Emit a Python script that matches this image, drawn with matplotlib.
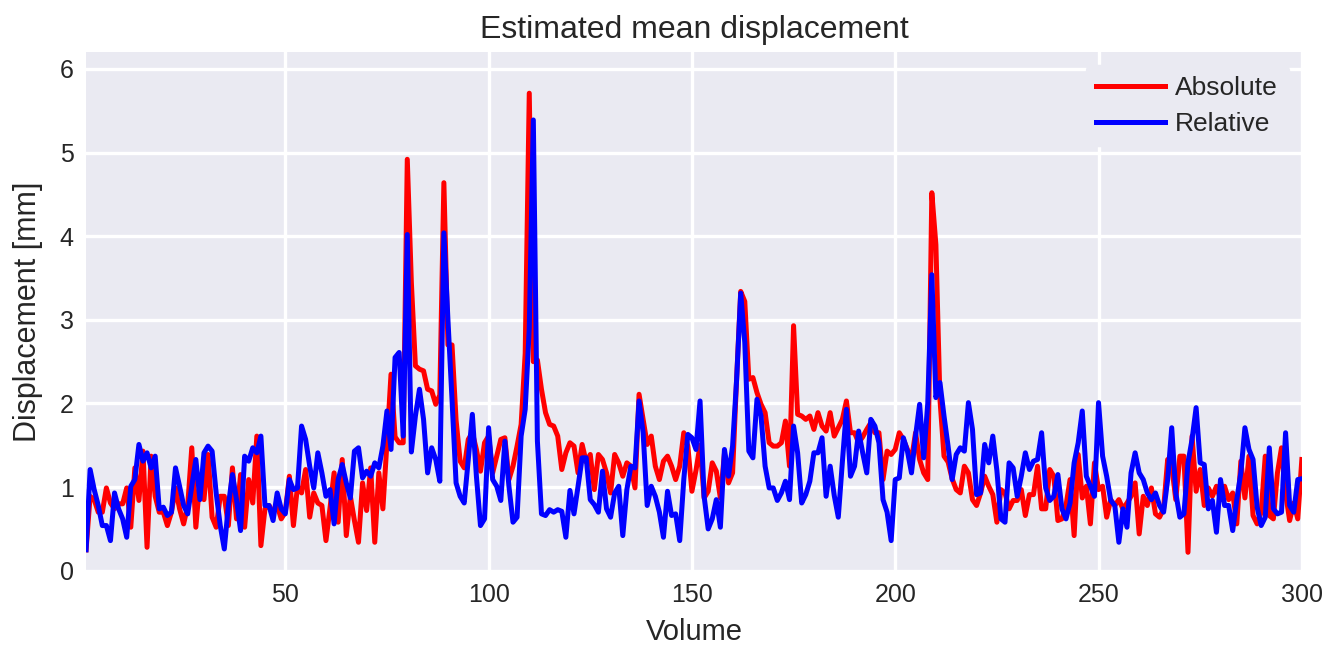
import matplotlib
matplotlib.use("Agg")
import matplotlib.pyplot as plt
import numpy as np

volume = list(range(1, 301))

absolute = [
    0.25, 0.89, 0.85, 0.70, 0.70, 0.99, 0.81, 0.74, 0.80, 0.80,
    0.99, 0.52, 1.23, 0.84, 1.43, 0.28, 1.37, 0.89, 0.70, 0.70,
    0.54, 0.70, 0.99, 0.74, 0.56, 0.78, 1.47, 0.52, 1.09, 0.85,
    1.39, 0.64, 0.52, 0.89, 0.89, 0.54, 1.23, 0.62, 1.15, 0.52,
    1.09, 0.81, 1.61, 0.30, 0.74, 0.78, 0.70, 0.78, 0.62, 0.70,
    1.13, 0.54, 1.01, 0.93, 1.21, 0.64, 0.93, 0.81, 0.78, 0.36,
    0.75, 1.17, 0.58, 1.33, 0.42, 0.89, 0.60, 0.34, 1.05, 0.72,
    1.23, 0.34, 1.17, 0.74, 1.53, 2.35, 1.60, 1.53, 1.53, 4.92,
    3.45, 2.45, 2.41, 2.39, 2.17, 2.15, 1.99, 2.10, 4.64, 2.70,
    2.70, 1.80, 1.31, 1.23, 1.57, 1.65, 1.45, 1.19, 1.53, 1.61,
    1.17, 1.37, 1.57, 1.59, 1.09, 1.25, 1.49, 1.75, 2.60, 5.71,
    2.50, 2.52, 2.17, 1.89, 1.75, 1.73, 1.61, 1.21, 1.41, 1.53,
    1.49, 1.17, 1.51, 1.30, 1.39, 0.97, 1.39, 1.33, 1.17, 0.93,
    1.39, 1.29, 1.13, 1.29, 1.25, 0.99, 2.11, 1.81, 1.51, 1.61,
    1.25, 1.09, 1.31, 1.37, 1.25, 1.09, 1.25, 1.65, 1.49, 0.95,
    1.20, 1.50, 0.87, 0.95, 1.29, 1.19, 0.87, 1.40, 1.05, 1.17,
    2.30, 3.34, 3.22, 2.29, 2.31, 2.13, 1.99, 1.89, 1.53, 1.49,
    1.49, 1.53, 1.79, 1.25, 2.93, 1.87, 1.85, 1.81, 1.85, 1.69,
    1.89, 1.73, 1.67, 1.89, 1.61, 1.71, 1.81, 2.03, 1.65, 1.65,
    1.53, 1.60, 1.69, 1.77, 1.65, 1.65, 1.09, 1.43, 1.39, 1.45,
    1.65, 1.57, 1.45, 1.33, 1.65, 1.33, 1.17, 1.09, 4.52, 3.90,
    2.05, 1.37, 1.30, 1.10, 0.97, 0.93, 1.25, 1.17, 0.85, 0.78,
    0.93, 1.13, 1.01, 0.91, 0.58, 0.97, 0.93, 0.74, 0.84, 0.84,
    0.97, 0.66, 0.91, 0.91, 1.25, 0.74, 0.74, 1.21, 1.13, 0.60,
    0.62, 0.78, 1.09, 0.42, 1.39, 0.87, 1.01, 0.56, 1.29, 0.97,
    1.01, 0.64, 0.85, 0.78, 0.85, 0.74, 0.81, 0.89, 1.05, 0.44,
    0.89, 0.78, 0.99, 0.68, 0.64, 0.74, 1.33, 1.25, 0.85, 1.37,
    1.37, 0.22, 1.61, 0.95, 1.21, 0.78, 0.99, 0.89, 1.01, 0.85,
    1.01, 0.85, 0.93, 0.56, 1.31, 0.87, 1.37, 0.66, 0.56, 0.70,
    1.37, 0.66, 0.62, 1.17, 1.47, 0.93, 0.60, 0.81, 0.62, 1.33,
]

relative = [
    0.25, 1.21, 0.97, 0.78, 0.54, 0.54, 0.36, 0.93, 0.74, 0.62,
    0.40, 1.01, 1.09, 1.51, 1.31, 1.41, 1.23, 1.37, 0.74, 0.76,
    0.66, 0.70, 1.23, 1.01, 0.78, 0.68, 1.01, 1.33, 0.85, 1.41,
    1.49, 1.43, 0.93, 0.54, 0.26, 0.78, 1.15, 0.85, 0.48, 1.37,
    1.31, 1.47, 1.41, 1.61, 0.78, 0.78, 0.60, 0.93, 0.74, 0.68,
    1.09, 0.97, 0.99, 1.73, 1.57, 1.25, 0.99, 1.41, 1.17, 0.89,
    0.97, 0.56, 1.09, 1.27, 1.05, 0.87, 1.43, 1.47, 1.11, 1.19,
    1.13, 1.29, 1.23, 1.49, 1.91, 1.45, 2.55, 2.61, 1.61, 4.02,
    1.42, 1.85, 2.17, 1.81, 1.17, 1.47, 1.33, 1.07, 4.04, 3.00,
    2.05, 1.05, 0.89, 0.81, 1.33, 1.87, 1.13, 0.54, 0.62, 1.71,
    1.09, 1.01, 0.84, 1.55, 1.01, 0.58, 0.64, 1.61, 1.93, 2.90,
    5.39, 1.55, 0.68, 0.66, 0.73, 0.70, 0.73, 0.71, 0.40, 0.96,
    0.68, 1.01, 1.35, 1.35, 0.85, 0.79, 0.70, 1.19, 0.74, 0.64,
    0.93, 1.01, 0.42, 0.97, 1.25, 1.23, 2.03, 1.65, 0.78, 1.01,
    0.89, 0.70, 0.40, 0.95, 0.66, 0.68, 0.36, 1.09, 1.63, 1.59,
    1.45, 2.03, 0.89, 0.50, 0.62, 0.85, 0.52, 1.45, 1.13, 1.49,
    2.29, 3.32, 2.73, 1.43, 1.35, 2.05, 1.85, 1.25, 0.99, 0.99,
    0.84, 0.93, 1.07, 0.85, 1.73, 1.41, 0.81, 0.91, 1.07, 1.41,
    1.41, 1.59, 0.89, 1.25, 0.90, 0.64, 1.30, 1.93, 1.13, 1.25,
    1.67, 1.41, 1.17, 1.81, 1.73, 1.53, 0.85, 0.70, 0.36, 1.09,
    1.11, 1.59, 1.43, 1.17, 1.61, 1.99, 1.35, 2.00, 3.54, 2.07,
    2.25, 1.85, 1.49, 1.09, 1.39, 1.47, 1.43, 2.01, 1.69, 0.91,
    0.93, 1.51, 1.29, 1.61, 1.20, 0.62, 0.58, 1.29, 1.23, 0.89,
    1.13, 1.41, 1.21, 1.31, 1.33, 1.65, 0.99, 0.84, 0.89, 1.15,
    0.74, 0.62, 0.81, 1.29, 1.53, 1.91, 1.13, 1.01, 0.89, 2.01,
    1.37, 1.13, 0.84, 0.78, 0.34, 0.74, 0.52, 1.17, 1.41, 1.17,
    1.09, 0.93, 0.85, 0.93, 0.78, 0.70, 1.09, 1.71, 0.93, 0.64,
    0.68, 1.29, 1.57, 1.95, 1.29, 1.27, 0.74, 0.84, 0.46, 1.09,
    0.78, 0.78, 0.48, 0.85, 1.17, 1.71, 1.45, 1.33, 0.76, 0.54,
    0.64, 1.47, 0.74, 0.68, 0.70, 1.65, 0.78, 0.70, 1.09, 1.10,
]

x_ticks = [50, 100, 150, 200, 250, 300]
y_ticks = [0, 1, 2, 3, 4, 5, 6]

plt.rcParams['font.family'] = ['Liberation Sans', 'DejaVu Sans']
fig = plt.figure(figsize=(13.28, 6.53), dpi=100)
ax = fig.add_axes([0.0648, 0.126, 0.9155, 0.794])
ax.set_facecolor('#EAEAF2')
for s in ax.spines.values():
    s.set_visible(False)
ax.grid(True, color='white', linewidth=2.4)
ax.set_axisbelow(True)

ax.plot(volume, absolute, color='red', lw=3.6, label='Absolute')
ax.plot(volume, relative, color='blue', lw=3.6, label='Relative')

ax.set_xlim(1, 300)
ax.set_ylim(0, 6.2)
ax.set_xticks(x_ticks)
ax.set_yticks(y_ticks)
ax.tick_params(axis='both', length=0, labelsize=18, colors='#262626', pad=9)
ax.set_xlabel('Volume', fontsize=21, color='#262626', labelpad=8)
ax.set_ylabel('Displacement [mm]', fontsize=22, color='#262626', labelpad=12)
ax.set_title('Estimated mean displacement', fontsize=23, color='#262626', pad=10)
leg = ax.legend(loc='upper right', fontsize=19, frameon=True, facecolor='#EAEAF2',
                edgecolor='#EAEAF2', framealpha=1.0, handlelength=2.6,
                handletextpad=0.4, borderaxespad=0.5, labelspacing=0.45)
for t in leg.get_texts():
    t.set_color('#262626')

fig.savefig('out.png', dpi=100)
